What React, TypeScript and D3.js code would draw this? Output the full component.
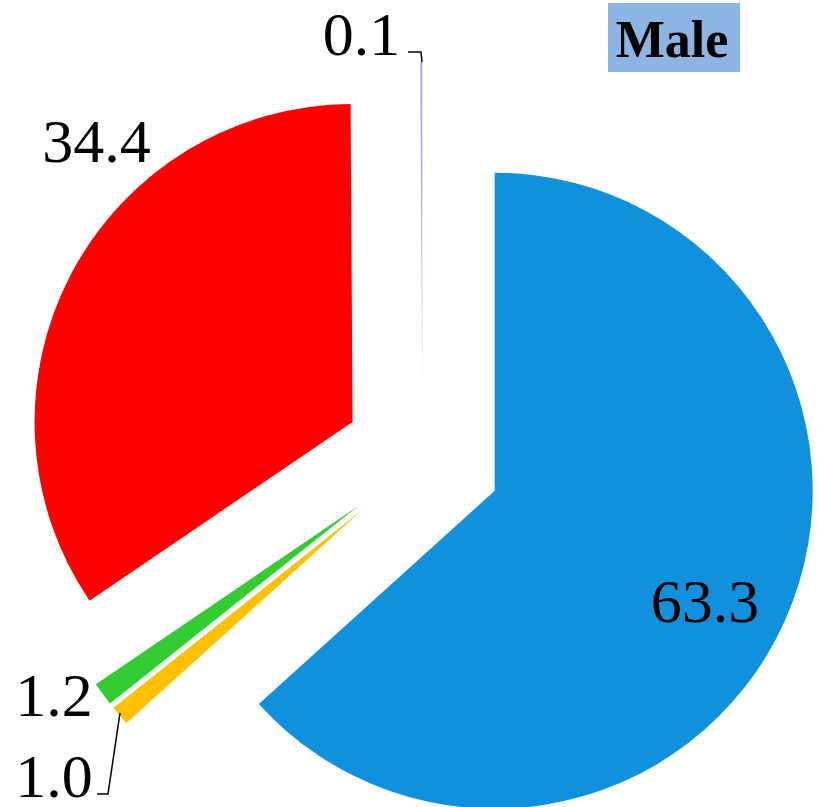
import React from "react";
import * as d3 from "d3";

const title = "Male";
const categories = ["Group A", "Group B", "Group C", "Group D", "Group E"];
const values = [63.3, 1.0, 1.2, 34.4, 0.1];
const valueLabels = ["63.3", "1.0", "1.2", "34.4", "0.1"];
const colors = ["#1190dd", "#ffc000", "#33cc33", "#ff0000", "#b89bdf"];

// layout (not data)
const W = 817;
const H = 807;
const CX = 422.5;
const CY = 458.7;
const R = 318;
const EXPLODE = 79;
const FONT = "'Liberation Serif', 'Times New Roman', serif";
// label placement: [x, y] of text anchor (middle, baseline); leader polyline if any
const labelLayout: { x: number; y: number; leader?: [number, number][] }[] = [
  { x: 705, y: 622 },
  { x: 54, y: 797, leader: [[97, 794], [108, 794], [120, 713]] },
  { x: 54, y: 716 },
  { x: 96.5, y: 162 },
  { x: 361.5, y: 55, leader: [[408, 52], [421, 52], [422, 62]] },
];

export default function App() {
  const pie = d3
    .pie<number>()
    .sort(null)
    .value((d) => d)
    .startAngle(0)
    .endAngle(2 * Math.PI);
  const arcs = pie(values);
  const arcGen = d3.arc<d3.PieArcDatum<number>>().innerRadius(0).outerRadius(R);
  const line = d3.line();

  return (
    <svg
      width={W}
      height={H}
      style={{ position: "absolute", left: 0, top: 0, background: "#fff" }}
    >
      <rect x={0} y={0} width={W} height={H} fill="#fff" />
      {arcs.map((a, i) => {
        const mid = (a.startAngle + a.endAngle) / 2;
        const dx = EXPLODE * Math.sin(mid);
        const dy = -EXPLODE * Math.cos(mid);
        return (
          <path
            key={categories[i]}
            d={arcGen(a) || ""}
            transform={`translate(${CX + dx},${CY + dy})`}
            fill={colors[i]}
          />
        );
      })}
      {labelLayout.map((l, i) =>
        l.leader ? (
          <path
            key={"ld" + i}
            d={line(l.leader) || ""}
            fill="none"
            stroke="#000"
            strokeWidth={1.5}
          />
        ) : null
      )}
      {labelLayout.map((l, i) => (
        <text
          key={"lb" + i}
          x={l.x}
          y={l.y}
          textAnchor="middle"
          fontFamily={FONT}
          fontSize={62}
          fill="#000"
        >
          {valueLabels[i]}
        </text>
      ))}
      <rect x={608} y={3} width={132} height={69} fill="#8db4e2" />
      <text
        x={672}
        y={57}
        textAnchor="middle"
        fontFamily={FONT}
        fontWeight="bold"
        fontSize={52}
        fill="#000"
      >
        {title}
      </text>
    </svg>
  );
}
